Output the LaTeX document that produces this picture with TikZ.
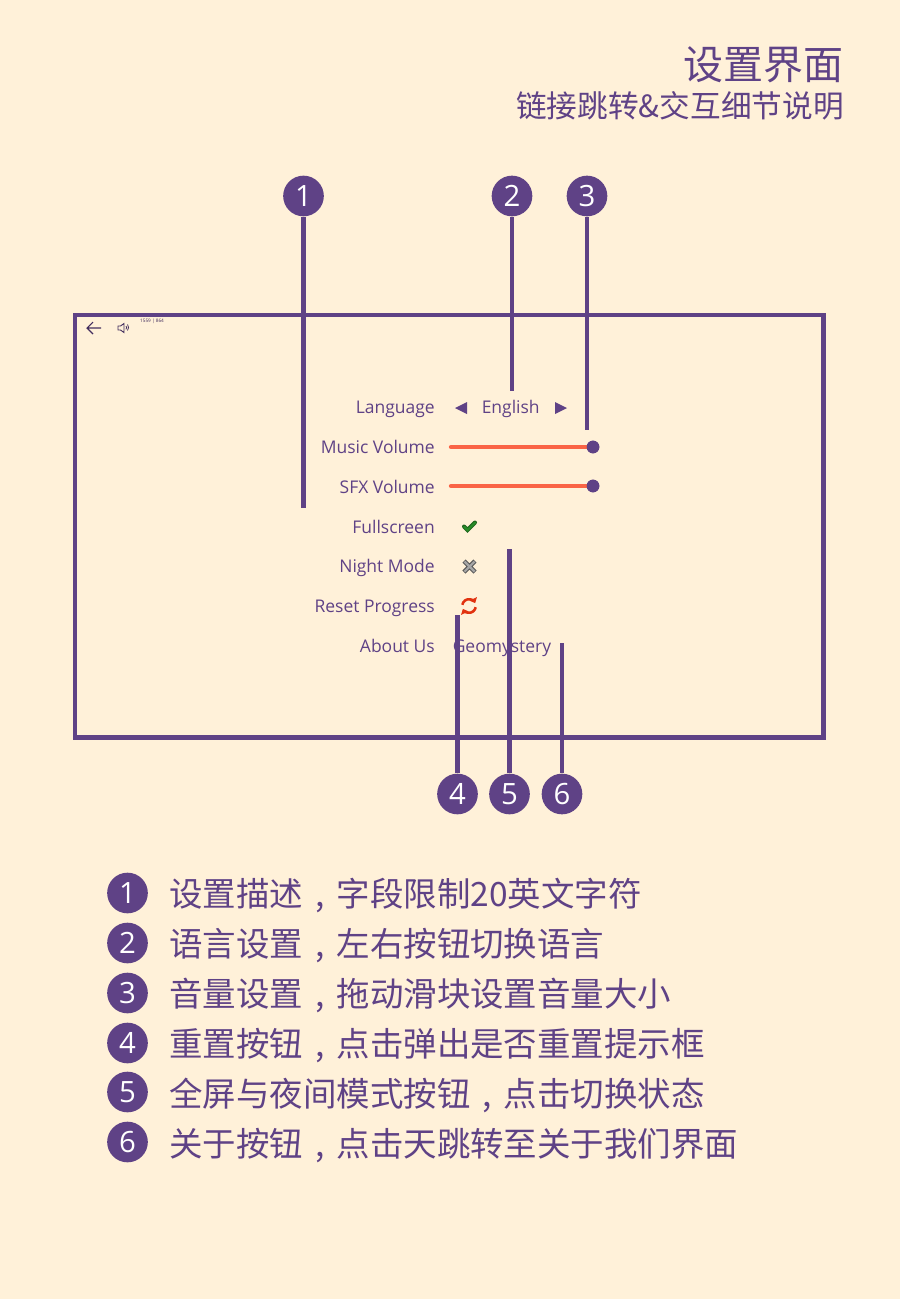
\documentclass[tikz,border=0pt]{standalone}
\usepackage{fontspec}
\usepackage{xcolor}
\setmainfont{Open Sans}
\newfontfamily\cjk{Noto Sans CJK SC}
\usetikzlibrary{arrows.meta}
\definecolor{FondoCrema}{RGB}{255,241,217}
\definecolor{MoradoLinea}{RGB}{95,66,134}
\definecolor{NaranjaBarra}{RGB}{250,100,70}
\definecolor{VerdeCheck}{RGB}{40,140,40}
\definecolor{RojoReset}{RGB}{225,50,15}
\newcommand{\midcomma}{\makebox[1em][c]{,}}
\tikzset{
  numdot/.style={circle,fill=MoradoLinea,text=white,minimum size=30.5pt,inner sep=0pt,font=\fontsize{22}{22}\selectfont},
  callout/.style={draw=MoradoLinea,line width=3.7pt},
  rowlabel/.style={anchor=base east,inner sep=0pt,text=MoradoLinea,font=\fontsize{13.1}{13.1}\selectfont},
  rowvalue/.style={anchor=base west,inner sep=0pt,text=MoradoLinea,font=\fontsize{13.1}{13.1}\selectfont},
  notetext/.style={anchor=base west,inner sep=0pt,text=MoradoLinea,font=\cjk\fontsize{25.1}{25.1}\selectfont},
  knob/.style={circle,fill=MoradoLinea,minimum size=9.5pt,inner sep=0pt},
  tickbar/.style={line width=3.2pt,draw=NaranjaBarra,line cap=round}
}
\begin{document}
\begin{tikzpicture}[x=0.75pt,y=-0.75pt,>=Latex]
  \useasboundingbox[fill=FondoCrema] (0,0) rectangle (900,1299);
  \node[anchor=east,inner sep=0pt,text=MoradoLinea,font=\cjk\fontsize{30}{30}\selectfont] (titulo) at (844,65) {设置界面};
  \node[anchor=east,inner sep=0pt,text=MoradoLinea,font=\cjk\fontsize{23}{23}\selectfont] (subtitulo) at (844,106) {链接跳转\&交互细节说明};
  \draw[callout] (75,315) rectangle (823.5,737.5);
  \draw[MoradoLinea!70!black,line width=0.8pt] (101,328)--(87,328) (93,322)--(87,328)--(93,334);
  \draw[MoradoLinea!70!black,line width=0.7pt] (118,326)--(120.5,326)--(124,323.5)--(124,332.5)--(120.5,330)--(118,330)--cycle;
  \draw[MoradoLinea!70!black,line width=0.6pt] (126,326) arc (-40:40:2.6) (127.5,324.5) arc (-40:40:4.6);
  \node[inner sep=0pt,text=MoradoLinea!70!black,font=\fontsize{3.5}{3.5}\selectfont] (medida) at (152,321) {1559 | 864};
  \node[rowlabel] (lang) at (435,413) {Language};
  \node[rowlabel] (music) at (435,453) {Music Volume};
  \node[rowlabel] (sfx) at (435,493) {SFX Volume};
  \node[rowlabel] (full) at (435,533) {Fullscreen};
  \node[rowlabel] (night) at (435,572) {Night Mode};
  \node[rowlabel] (reset) at (435,612) {Reset Progress};
  \node[rowlabel] (about) at (435,652) {About Us};
  \node[rowvalue] (english) at (481.5,413) {English};
  \node[rowvalue] (geo) at (452.5,652) {Geomystery};
  \fill[MoradoLinea] (455,408)--(467,402)--(467,414)--cycle;
  \fill[MoradoLinea] (567,408)--(555,402)--(555,414)--cycle;
  \node[knob] (knobA) at (593,447) {};
  \node[knob] (knobB) at (593,486) {};
  \draw[tickbar] (451,447)--(knobA);
  \draw[tickbar] (451,486)--(knobB);
  \node[knob] at (593,447) {};
  \node[knob] at (593,486) {};
  \draw[VerdeCheck!70!black,line width=3pt,line cap=round] (464,526.5)--(467.5,530)--(475,522.5);
  \draw[VerdeCheck,line width=1.6pt,line cap=round] (464,526.5)--(467.5,530)--(475,522.5);
  \draw[black!65,line width=3.4pt] (464,561)--(475,572) (475,561)--(464,572);
  \draw[black!35,line width=1.6pt] (464.5,561.5)--(474.5,571.5) (474.5,561.5)--(464.5,571.5);
  \draw[RojoReset,line width=1.9pt,-{Triangle[length=3.5pt,width=6pt]}] (462.3,604.8) arc (190:335:6.8);
  \draw[RojoReset,line width=1.9pt,-{Triangle[length=3.5pt,width=6pt]}] (475.7,607.2) arc (10:155:6.8);
  \node[numdot] (n1) at (303.5,196) {1};
  \node[numdot] (n2) at (512,196) {2};
  \node[numdot] (n3) at (587,196) {3};
  \node[numdot] (n4) at (457.5,794) {4};
  \node[numdot] (n5) at (509.5,794) {5};
  \node[numdot] (n6) at (562,794) {6};
  \coordinate (e1) at (303.5,508);
  \coordinate (e2) at (512,391);
  \coordinate (e3) at (587,430);
  \coordinate (e4) at (457.5,615);
  \coordinate (e5) at (509.5,549);
  \coordinate (e6) at (562,643);
  \draw[callout] (n1)--(e1);
  \draw[callout] (n2)--(e2);
  \draw[callout] (n3)--(e3);
  \draw[callout] (n4)--(e4);
  \draw[callout] (n5)--(e5);
  \draw[callout] (n6)--(e6);
  \node[numdot] (m1) at (127.5,893) {1};
  \node[numdot] (m2) at (127.5,943) {2};
  \node[numdot] (m3) at (127.5,993) {3};
  \node[numdot] (m4) at (127.5,1043) {4};
  \node[numdot] (m5) at (127.5,1092) {5};
  \node[numdot] (m6) at (127.5,1142) {6};
  \node[notetext] (t1) at (169,906.5) {设置描述\midcomma 字段限制20英文字符};
  \node[notetext] (t2) at (169,956.5) {语言设置\midcomma 左右按钮切换语言};
  \node[notetext] (t3) at (169,1006.5) {音量设置\midcomma 拖动滑块设置音量大小};
  \node[notetext] (t4) at (169,1056.5) {重置按钮\midcomma 点击弹出是否重置提示框};
  \node[notetext] (t5) at (169,1106.5) {全屏与夜间模式按钮\midcomma 点击切换状态};
  \node[notetext] (t6) at (169,1156.5) {关于按钮\midcomma 点击天跳转至关于我们界面};
\end{tikzpicture}
\end{document}
